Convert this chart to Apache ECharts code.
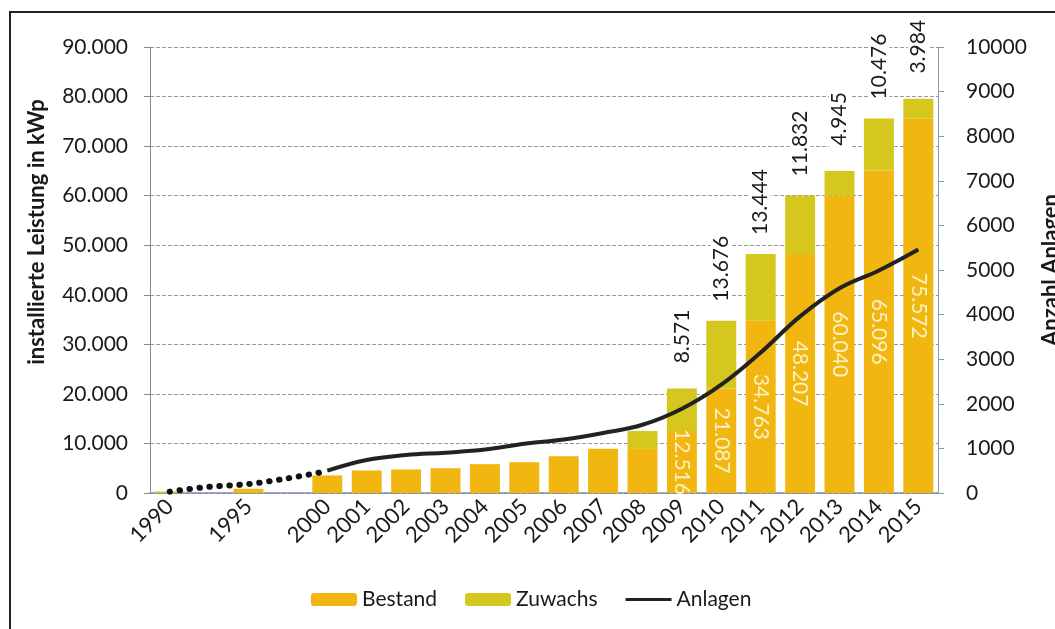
<!DOCTYPE html>
<html>
<head>
<meta charset="utf-8">
<script src="https://cdn.jsdelivr.net/npm/echarts@6/dist/echarts.min.js"></script>
<style>
  html, body { margin: 0; padding: 0; background: #fff; }
  #chart { width: 1055px; height: 629px; }
</style>
</head>
<body>
<div id="chart"></div>
<script>
const years = ['1990', '', '1995', '', '2000', '2001', '2002', '2003', '2004', '2005', '2006', '2007', '2008', '2009', '2010', '2011', '2012', '2013', '2014', '2015']
const bestand = [0, null, 850, null, 3540, 4550, 4750, 5000, 5820, 6220, 7430, 8930, 8900, 12516, 21087, 34763, 48207, 60040, 65096, 75572]
const zuwachs = [300, null, 0, null, 0, 0, 0, 0, 0, 0, 0, 0, 3600, 8571, 13676, 13444, 11832, 4945, 10476, 3984]
const anlagenFrueh = [30, 140, 200, 330, 490, null, null, null, null, null, null, null, null, null, null, null, null, null, null, null]
const anlagen = [null, null, null, null, 500, 740, 850, 905, 975, 1105, 1200, 1345, 1530, 1890, 2430, 3150, 3960, 4590, 4990, 5460]
const labelFromYear = 2009

const fontFamily = 'Lato, "DejaVu Sans", sans-serif'
const textColor = '#1a1a1a'

function fmt(v) {
  return String(v).replace(/\B(?=(\d{3})+(?!\d))/g, '.')
}
function labelText(p) {
  return parseInt(p.name) >= labelFromYear ? fmt(p.value) : ''
}

const chart = echarts.init(document.getElementById('chart'))
const option = {
  backgroundColor: '#fff',
  textStyle: { fontFamily: fontFamily },
  animation: false,
  graphic: [
    {
      type: 'rect',
      shape: { x: 10, y: 12, width: 1070, height: 640 },
      style: { fill: 'none', stroke: '#222', lineWidth: 2 },
      silent: true,
    },
  ],
  grid: { left: 150, right: 117, top: 47, bottom: 136, outerBoundsMode: 'none', containLabel: false },
  legend: {
    left: 306,
    top: 584,
    itemWidth: 46,
    itemHeight: 13,
    itemGap: 28,
    textStyle: { fontSize: 21, color: textColor, fontFamily: fontFamily },
    data: [
      'Bestand',
      'Zuwachs',
      { name: 'Anlagen', icon: 'path://M0,0 L46,0 L46,3 L0,3 Z', itemStyle: { color: '#222' } },
    ],
  },
  xAxis: {
    type: 'category',
    data: years,
    axisLine: { lineStyle: { color: '#7f8fa6', width: 1.5 } },
    axisTick: { interval: 0, length: 5, lineStyle: { color: '#5b6f95' } },
    axisLabel: { interval: 0, rotate: 45, fontSize: 22, color: textColor, margin: 10 },
  },
  yAxis: [
    {
      type: 'value',
      min: 0,
      max: 90000,
      interval: 10000,
      name: 'installierte Leistung in kWp',
      nameLocation: 'middle',
      nameRotate: 90,
      nameGap: 102,
      nameTextStyle: { fontSize: 22, fontWeight: 'bold', color: textColor, padding: [0, 0, 0, 76] },
      axisLine: { show: true, lineStyle: { color: '#888' } },
      axisTick: { show: true, length: 6, lineStyle: { color: '#888' } },
      axisLabel: { fontSize: 21, color: textColor, margin: 22, formatter: fmt },
      splitLine: { lineStyle: { color: '#999', type: [4, 2] } },
    },
    {
      type: 'value',
      min: 0,
      max: 10000,
      interval: 1000,
      name: 'Anzahl Anlagen',
      nameLocation: 'middle',
      nameRotate: 90,
      nameGap: 102,
      nameTextStyle: { fontSize: 22, fontWeight: 'bold', color: textColor },
      axisLine: { show: true, lineStyle: { color: '#8899aa' } },
      axisTick: { show: true, length: 6, lineStyle: { color: '#8899aa' } },
      axisLabel: { fontSize: 21, color: textColor, margin: 28, formatter: function (v) { return String(v) } },
      splitLine: { show: false },
    },
  ],
  series: [
    {
      name: 'Bestand',
      type: 'bar',
      stack: 'leistung',
      data: bestand,
      barCategoryGap: '24%',
      itemStyle: { color: '#F1B60F' },
      label: {
        show: true,
        position: 'inside',
        rotate: -90,
        align: 'center',
        verticalAlign: 'middle',
        fontSize: 21,
        color: '#fdf1c4',
        formatter: labelText,
      },
    },
    {
      name: 'Zuwachs',
      type: 'bar',
      stack: 'leistung',
      data: zuwachs,
      itemStyle: { color: '#D5C71E' },
      label: {
        show: true,
        position: 'top',
        distance: 52,
        rotate: 90,
        align: 'center',
        verticalAlign: 'middle',
        fontSize: 21,
        color: textColor,
        backgroundColor: '#fff',
        padding: [0, 3],
        formatter: labelText,
      },
    },
    {
      name: 'Anlagen',
      type: 'line',
      yAxisIndex: 1,
      data: anlagen,
      smooth: 0.4,
      symbol: 'none',
      lineStyle: { color: '#222', width: 4 },
      itemStyle: { color: '#222' },
      z: 5,
    },
    {
      name: 'Anlagen früh',
      type: 'line',
      yAxisIndex: 1,
      data: anlagenFrueh,
      smooth: 0.3,
      symbol: 'none',
      lineStyle: { color: '#111', width: 6, type: [0.5, 9.5], cap: 'round' },
      z: 5,
    },
  ],
}
chart.setOption(option)
</script>
</body>
</html>
